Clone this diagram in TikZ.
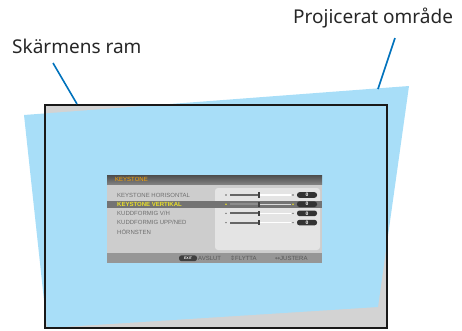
\documentclass[tikz,border=0pt]{standalone}
\usepackage{fontspec}
\setmainfont{Noto Sans}
\newfontfamily\osdfont{Liberation Sans}
\newfontfamily\symfont{DejaVu Sans}
\definecolor{projblue}{RGB}{168,222,248}
\definecolor{screengray}{RGB}{211,211,211}
\definecolor{leaderblue}{RGB}{0,114,188}
\definecolor{osdbody}{RGB}{205,205,205}
\definecolor{osdpanel}{RGB}{228,228,228}
\definecolor{osdbar}{RGB}{150,150,150}
\definecolor{osdtext}{RGB}{110,110,110}
\definecolor{osdyellow}{RGB}{235,225,40}
\tikzset{
  leader/.style={draw=leaderblue, line width=1.6pt},
  label/.style={font=\fontsize{19}{22}\selectfont, text=black!85, inner sep=0pt},
  osditem/.style={font=\osdfont\fontsize{6}{7}\selectfont, text=osdtext, inner sep=0pt, anchor=west},
  pill/.style={fill=black!80, rounded corners=2.5pt},
}
\begin{document}
\begin{tikzpicture}[x=1pt,y=-1pt]
\useasboundingbox (0,0) rectangle (462,330);
% screen and projected area
\fill[screengray] (45,105) rectangle (387,328);
\fill[projblue] (24,115) -- (409,86) -- (378,307) -- (47,328) -- cycle;
\draw[black!90, line width=2.6pt] (45,105) rectangle (387,328);
% labels
\node[label, anchor=base west] (lblscreen) at (12,53) {Skärmens ram};
\node[label, anchor=base west] (lblproj) at (293,23) {Projicerat område};
\coordinate (sa) at (53,63);
\coordinate (sb) at (77,104);
\coordinate (pa) at (395,38);
\coordinate (pb) at (378,89);
\draw[leader] (sa) -- (sb);
\draw[leader] (pa) -- (pb);
% OSD menu
\fill[osdbody] (107,175) rectangle (322,263);
\shade[top color=black!70, bottom color=black!50] (107,175) rectangle (322,184);
\node[osditem, text=orange!70!yellow] (ttl) at (115,179.5) {KEYSTONE};
\fill[osdpanel, rounded corners=3pt] (215,188) rectangle (320,250);
\fill[black!55] (107,200.5) rectangle (322,207.8);
\fill[osdbar] (107,253) rectangle (322,263);
\node[osditem] (i1) at (117,195) {KEYSTONE HORISONTAL};
\node[osditem, text=osdyellow, font=\osdfont\bfseries\fontsize{6}{7}\selectfont] (i2) at (117,204.2) {KEYSTONE VERTIKAL};
\node[osditem] (i3) at (117,213.3) {KUDDFORMIG V/H};
\node[osditem] (i4) at (117,222.6) {KUDDFORMIG UPP/NED};
\node[osditem] (i5) at (117,231.7) {HÖRNSTEN};
\foreach \yy/\hl in {195/0,204.2/1,213.3/0,222.6/0} {
  \ifnum\hl=1
    \fill[osdyellow] (226,\yy) circle (0.9pt);
    \fill[osdyellow] (293,\yy) circle (0.9pt);
    \fill[white!85!black] (230,\yy-0.7) rectangle (291,\yy+0.7);
    \fill[black!45] (230,\yy-0.9) rectangle (259,\yy+0.9);
  \else
    \fill[black!60] (226,\yy) circle (0.8pt);
    \fill[black!60] (293,\yy) circle (0.8pt);
    \fill[white] (230,\yy-0.7) rectangle (291,\yy+0.7);
    \fill[black!60] (230,\yy-0.9) rectangle (259,\yy+0.9);
  \fi
  \fill[black!75] (258,\yy-2.6) rectangle (260.2,\yy+2.6);
  \fill[pill] (297,\yy-2.8) rectangle (317,\yy+2.8);
  \node[font=\osdfont\bfseries\fontsize{5}{6}\selectfont, text=white, inner sep=0pt] at (307,\yy) {0};
}
\fill[pill, fill=black!75] (179,255.3) rectangle (197,261.2);
\node[font=\osdfont\bfseries\fontsize{3.5}{4}\selectfont, text=white, inner sep=0pt] (exit) at (188,258.2) {EXIT};
\node[osditem, text=black!65] (b1) at (198,258.2) {AVSLUT};
\node[osditem, text=black!65] (b2) at (230,258.2) {{\symfont ⇕}FLYTTA};
\node[osditem, text=black!65] (b3) at (275,258.2) {{\symfont ↔}JUSTERA};
\end{tikzpicture}
\end{document}
